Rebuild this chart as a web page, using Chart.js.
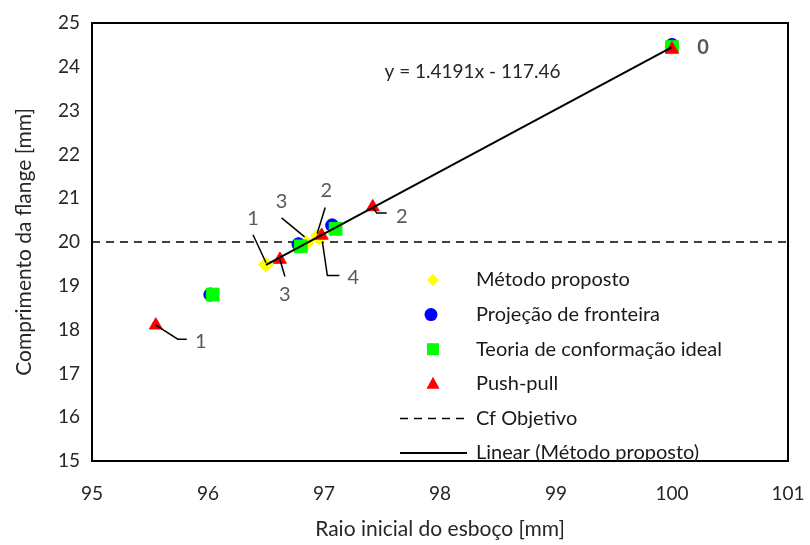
<!DOCTYPE html>
<html>
<head>
<meta charset="utf-8">
<script src="https://cdn.jsdelivr.net/npm/chart.js@4"></script>
<style>
  html, body { margin: 0; padding: 0; background: #fff; }
  #wrap { width: 810px; height: 545px; }
</style>
</head>
<body>
<div id="wrap"><canvas id="chart" width="810" height="545"></canvas></div>
<script>
// Dados
const metodoX = [100, 96.5, 96.95, 96.85, 96.96];
const metodoY = [24.45, 19.48, 20.15, 19.98, 20.1];
const projecaoX = [100, 96.02, 96.78, 97.07];
const projecaoY = [24.5, 18.8, 19.95, 20.38];
const teoriaX = [100, 96.04, 96.8, 97.1];
const teoriaY = [24.45, 18.8, 19.9, 20.3];
const pushX = [100, 95.55, 96.62, 96.98, 97.42];
const pushY = [24.4, 18.1, 19.6, 20.15, 20.8];
const objetivoX = [95, 101];
const objetivoY = [20, 20];
const linearX = [96.5, 100];
const linearY = [19.48, 24.45];

const xTicks = [95, 96, 97, 98, 99, 100, 101];
const yTicks = [15, 16, 17, 18, 19, 20, 21, 22, 23, 24, 25];

const equacao = 'y = 1.4191x - 117.46';
const equacaoPos = [98.28, 23.88];

function pares(xs, ys) {
    return xs.map((x, i) => ({ x: x, y: ys[i] }));
}

// Rótulos dos pontos (índice do dataset, índice do ponto, texto, linha guia em px)
const rotulos = [
    { ds: 3, i: 1, texto: '1', linha: [[0, 0], [22, 14], [31, 14]], pos: [45, 16] },
    { ds: 3, i: 4, texto: '2', linha: [[0, 0], [4, 6], [14, 6]], pos: [29, 10] },
    { ds: 3, i: 2, texto: '3', linha: [[0, 0], [5, 17]], pos: [5, 35] },
    { ds: 0, i: 1, texto: '1', linha: [[0, -2], [-13, -30]], pos: [-13, -46] },
    { ds: 0, i: 3, texto: '3', linha: [[-2, -6], [-25, -25]], pos: [-25, -41] },
    { ds: 0, i: 2, texto: '2', linha: [[-1, -2], [7, -28]], pos: [8, -45] },
    { ds: 0, i: 4, texto: '4', linha: [[3, 4], [8, 38], [20, 38]], pos: [34, 40] },
    { ds: 0, i: 0, texto: '0', linha: [], pos: [31, 0], negrito: true }
];

const fonte = 'Lato, "Noto Sans", sans-serif';

const rotulosPlugin = {
    id: 'rotulos',
    afterDatasetsDraw(chart) {
        const ctx = chart.ctx;
        const area = chart.chartArea;
        ctx.save();
        // moldura da área do gráfico
        ctx.strokeStyle = '#000';
        ctx.lineWidth = 2;
        ctx.strokeRect(area.left, area.top, area.right - area.left, area.bottom - area.top);

        rotulos.forEach(r => {
            const el = chart.getDatasetMeta(r.ds).data[r.i];
            const px = el.x, py = el.y;
            if (r.linha.length) {
                ctx.beginPath();
                ctx.strokeStyle = '#000';
                ctx.lineWidth = 1.5;
                r.linha.forEach((p, k) => {
                    if (k === 0) ctx.moveTo(px + p[0], py + p[1]);
                    else ctx.lineTo(px + p[0], py + p[1]);
                });
                ctx.stroke();
            }
            ctx.fillStyle = '#595959';
            ctx.font = (r.negrito ? 'bold ' : '') + '20px ' + fonte;
            ctx.textAlign = 'center';
            ctx.textBaseline = 'middle';
            ctx.fillText(r.texto, px + r.pos[0], py + r.pos[1]);
        });

        // equação da linha de tendência
        const xs = chart.scales.x, ys = chart.scales.y;
        ctx.fillStyle = '#262626';
        ctx.font = '19px ' + fonte;
        ctx.textAlign = 'center';
        ctx.textBaseline = 'middle';
        ctx.fillText(equacao, xs.getPixelForValue(equacaoPos[0]), ys.getPixelForValue(equacaoPos[1]));
        ctx.restore();
    },
    afterDraw(chart) {
        // legenda dentro da área do gráfico
        const ctx = chart.ctx;
        const area = chart.chartArea;
        const legX = area.left + 341;
        const textoX = area.left + 384;
        const y0 = area.top + 257;
        const passo = 34.6;
        const ordem = [0, 1, 2, 3, 4, 5];
        ctx.save();
        ctx.font = '20px ' + fonte;
        ctx.textAlign = 'left';
        ctx.textBaseline = 'middle';
        ordem.forEach((d, k) => {
            const ds = chart.data.datasets[d];
            const y = y0 + k * passo;
            ctx.fillStyle = ds.backgroundColor;
            ctx.strokeStyle = ds.borderColor;
            ctx.lineWidth = 1;
            ctx.setLineDash([]);
            ctx.beginPath();
            if (ds.pointStyle === 'rectRot') {
                ctx.moveTo(legX, y - 6); ctx.lineTo(legX + 6, y);
                ctx.lineTo(legX, y + 6); ctx.lineTo(legX - 6, y);
                ctx.closePath(); ctx.fill();
            } else if (ds.pointStyle === 'circle') {
                ctx.arc(legX - 2, y, 6.5, 0, Math.PI * 2); ctx.fill();
            } else if (ds.pointStyle === 'rect') {
                ctx.rect(legX - 6, y - 6, 12, 12); ctx.fill();
            } else if (ds.pointStyle === 'triangle') {
                ctx.moveTo(legX, y - 7); ctx.lineTo(legX + 6.5, y + 5);
                ctx.lineTo(legX - 6.5, y + 5); ctx.closePath(); ctx.fill();
            } else {
                ctx.strokeStyle = '#000';
                ctx.lineWidth = ds.borderWidth;
                ctx.setLineDash(ds.borderDash || []);
                ctx.moveTo(area.left + 308, y);
                ctx.lineTo(area.left + 375, y);
                ctx.stroke();
                ctx.setLineDash([]);
            }
            ctx.fillStyle = '#1a1a1a';
            ctx.fillText(ds.label, textoX, y);
        });
        ctx.restore();
    }
};

const ctx = document.getElementById('chart').getContext('2d');
ctx.letterSpacing = '1px';
const chart = new Chart(ctx, {
    type: 'scatter',
    data: {
        datasets: [
            {
                label: 'Método proposto',
                data: pares(metodoX, metodoY),
                pointStyle: 'rectRot',
                pointRadius: 7.5,
                backgroundColor: '#ffff00',
                borderColor: '#ffff00',
                borderWidth: 1,
                order: 4
            },
            {
                label: 'Projeção de fronteira',
                data: pares(projecaoX, projecaoY),
                pointStyle: 'circle',
                pointRadius: 6.5,
                backgroundColor: '#0000ff',
                borderColor: '#0000ff',
                borderWidth: 1,
                order: 3
            },
            {
                label: 'Teoria de conformação ideal',
                data: pares(teoriaX, teoriaY),
                pointStyle: 'rect',
                pointRadius: 9,
                backgroundColor: '#00ff00',
                borderColor: '#00ff00',
                borderWidth: 1,
                order: 2
            },
            {
                label: 'Push-pull',
                data: pares(pushX, pushY),
                pointStyle: 'triangle',
                pointRadius: 7.5,
                backgroundColor: '#ff0000',
                borderColor: '#ff0000',
                borderWidth: 1,
                order: 1
            },
            {
                label: 'Cf Objetivo',
                data: pares(objetivoX, objetivoY),
                showLine: true,
                pointRadius: 0,
                borderColor: '#000',
                backgroundColor: '#000',
                borderWidth: 1.5,
                borderDash: [8, 6],
                order: 5
            },
            {
                label: 'Linear (Método proposto)',
                data: pares(linearX, linearY),
                showLine: true,
                pointRadius: 0,
                borderColor: '#000',
                backgroundColor: '#000',
                borderWidth: 2,
                order: 0
            }
        ]
    },
    options: {
        responsive: false,
        animation: false,
        layout: { padding: { top: 23, right: 22, left: 0, bottom: 0 } },
        plugins: {
            legend: { display: false },
            tooltip: { enabled: false }
        },
        scales: {
            x: {
                type: 'linear',
                min: 95,
                max: 101,
                afterBuildTicks: s => { s.ticks = xTicks.map(v => ({ value: v })); },
                afterFit: s => { s.height = 84; s.paddingLeft = 0; s.paddingRight = 0; },
                grid: { display: false, drawTicks: false },
                border: { display: false },
                ticks: { padding: 21, color: '#262626', font: { family: fonte, size: 19 } },
                title: {
                    display: true,
                    text: 'Raio inicial do esboço [mm]',
                    color: '#262626',
                    font: { family: fonte, size: 21 },
                    padding: { top: 4, bottom: 3 }
                }
            },
            y: {
                type: 'linear',
                min: 15,
                max: 25,
                afterBuildTicks: s => { s.ticks = yTicks.map(v => ({ value: v })); },
                afterFit: s => { s.width = 92; s.paddingTop = 0; s.paddingBottom = 0; },
                grid: { display: false, drawTicks: false },
                border: { display: false },
                ticks: { padding: 12, color: '#262626', font: { family: fonte, size: 19 } },
                title: {
                    display: true,
                    text: 'Comprimento da flange [mm]',
                    color: '#262626',
                    font: { family: fonte, size: 21 },
                    padding: { top: 12, bottom: 4 }
                }
            }
        }
    },
    plugins: [rotulosPlugin]
});
</script>
</body>
</html>
